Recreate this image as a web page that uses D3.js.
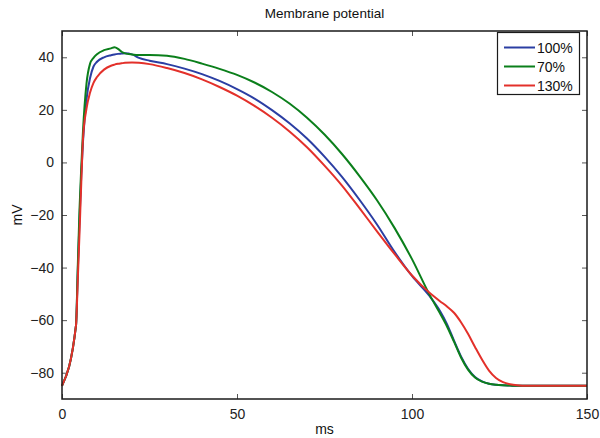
<!DOCTYPE html>
<html>
<head>
<meta charset="utf-8">
<script src="https://cdn.jsdelivr.net/npm/d3@7"></script>
<style>
  body { margin: 0; background: #fff; }
  svg { font-family: "Liberation Sans", Arial, sans-serif; }
</style>
</head>
<body>
<svg width="600" height="438"></svg>
<script>
// time grid (ms) shared by all three runs
let time = [0, 4, 4.5, 5, 5.5, 6, 7, 8, 9, 10, 12, 14, 15, 16, 17, 18, 20, 22, 25, 30, 35, 40, 45, 50, 55, 60, 65, 70, 75, 80, 85, 90, 95, 100, 105, 108, 110, 112, 114, 116, 118, 120, 122, 124, 126, 128, 130, 133, 136, 140, 150];

let v100 = [-85, -62, -42, -22, -5, 8, 24, 32, 36.5, 38.3, 40.0, 40.8, 41.1, 41.3, 41.4, 41.5, 41.1, 39.8, 38.7, 37.4, 35.7, 33.6, 31.0, 27.9, 24.3, 19.9, 14.9, 9.1, 2.2, -5.5, -14.2, -23.6, -34.0, -43.2, -50.8, -56.5, -61.5, -67.8, -73.8, -78.5, -81.6, -83.3, -84.2, -84.6, -84.8, -84.9, -85, -85, -85, -85, -85];

let v70 = [-85, -62, -40, -18, -2, 12, 30, 37.5, 39.8, 41.2, 42.7, 43.4, 43.8, 43.2, 42.1, 41.5, 41.1, 40.9, 40.9, 40.6, 39.4, 37.6, 35.6, 33.3, 30.4, 26.8, 22.4, 17.0, 10.6, 3.2, -5.2, -14.4, -24.9, -36.8, -50.3, -57.4, -62.4, -68.2, -74.2, -78.8, -81.8, -83.4, -84.2, -84.6, -84.8, -84.9, -85, -85, -85, -85, -85];

let v130 = [-85, -62, -45, -27, -8, 9, 20.5, 26.5, 30.3, 32.5, 35.3, 36.8, 37.2, 37.5, 37.7, 37.9, 38.0, 37.9, 37.4, 35.9, 34.0, 31.6, 28.7, 25.4, 21.5, 17.0, 11.8, 5.8, -1.2, -8.8, -17.4, -26.2, -34.8, -43.0, -49.6, -52.8, -54.8, -57.2, -60.8, -65.2, -70.2, -75.0, -79.2, -82.0, -83.6, -84.4, -84.8, -85, -85, -85, -85];

let seriesNames = ['100%', '70%', '130%'];
let seriesColors = ['#2b3ea3', '#0b7f1b', '#e3302a'];
let seriesValues = [v100, v70, v130];

let xTicks = [0, 50, 100, 150];
let yTicks = [-80, -60, -40, -20, 0, 20, 40];

let margin = { left: 62, right: 13, top: 31, bottom: 39 };
let width = 600, height = 438;

let svg = d3.select('svg');

let x = d3.scaleLinear()
  .domain([0, 150])
  .range([margin.left, width - margin.right]);

let y = d3.scaleLinear()
  .domain([-90, 50])
  .range([height - margin.bottom, margin.top]);

let tickStyle = g => {
  g.select('.domain').remove();
  g.selectAll('.tick line').attr('stroke', '#555');
  g.selectAll('.tick text').attr('fill', '#222').style('font-size', '14px');
};

// bottom + left axes with inward ticks
svg.append('g')
  .attr('transform', `translate(0,${y(-90)})`)
  .call(d3.axisBottom(x).tickValues(xTicks).tickSizeInner(-5).tickSizeOuter(0).tickPadding(10))
  .call(tickStyle);

svg.append('g')
  .attr('transform', `translate(${x(0)},0)`)
  .call(d3.axisLeft(y).tickValues(yTicks).tickSizeInner(-5).tickSizeOuter(0).tickPadding(8))
  .call(tickStyle);

// top + right ticks, no labels
svg.append('g')
  .attr('transform', `translate(0,${y(50)})`)
  .call(d3.axisTop(x).tickValues(xTicks).tickSizeInner(-5).tickSizeOuter(0).tickFormat(''))
  .call(tickStyle);

svg.append('g')
  .attr('transform', `translate(${x(150)},0)`)
  .call(d3.axisRight(y).tickValues(yTicks).tickSizeInner(-5).tickSizeOuter(0).tickFormat(''))
  .call(tickStyle);

let line = d3.line()
  .x((d, i) => x(time[i]))
  .y(d => y(d))
  .curve(d3.curveMonotoneX);

// red last so it sits on top like the original
seriesValues.forEach((vals, k) => {
  svg.append('path')
    .datum(vals)
    .attr('fill', 'none')
    .attr('stroke', seriesColors[k])
    .attr('stroke-width', 2)
    .attr('stroke-linejoin', 'round')
    .attr('d', line);
});

// box
svg.append('rect')
  .attr('x', x(0))
  .attr('y', y(50))
  .attr('width', x(150) - x(0))
  .attr('height', y(-90) - y(50))
  .attr('fill', 'none')
  .attr('stroke', '#1a1a1a')
  .attr('stroke-width', 1.5);

// title and axis labels
svg.append('text')
  .attr('x', (x(0) + x(150)) / 2)
  .attr('y', 18)
  .attr('text-anchor', 'middle')
  .style('font-size', '13.5px')
  .attr('fill', '#111')
  .text('Membrane potential');

svg.append('text')
  .attr('x', (x(0) + x(150)) / 2)
  .attr('y', 434)
  .attr('text-anchor', 'middle')
  .style('font-size', '14px')
  .attr('fill', '#111')
  .text('ms');

svg.append('text')
  .attr('transform', `translate(22,${(y(-90) + y(50)) / 2}) rotate(-90)`)
  .attr('text-anchor', 'middle')
  .style('font-size', '14px')
  .attr('fill', '#111')
  .text('mV');

// legend
let legend = svg.append('g');
legend.append('rect')
  .attr('x', 497.5)
  .attr('y', 32.5)
  .attr('width', 82)
  .attr('height', 62)
  .attr('fill', '#fff')
  .attr('stroke', '#1a1a1a')
  .attr('stroke-width', 1.2);

seriesNames.forEach((name, i) => {
  let ly = 47.5 + i * 19;
  legend.append('line')
    .attr('x1', 504).attr('x2', 535)
    .attr('y1', ly).attr('y2', ly)
    .attr('stroke', seriesColors[i])
    .attr('stroke-width', 2);
  legend.append('text')
    .attr('x', 537)
    .attr('y', ly + 5)
    .style('font-size', '14px')
    .attr('fill', '#111')
    .text(name);
});
</script>
</body>
</html>
